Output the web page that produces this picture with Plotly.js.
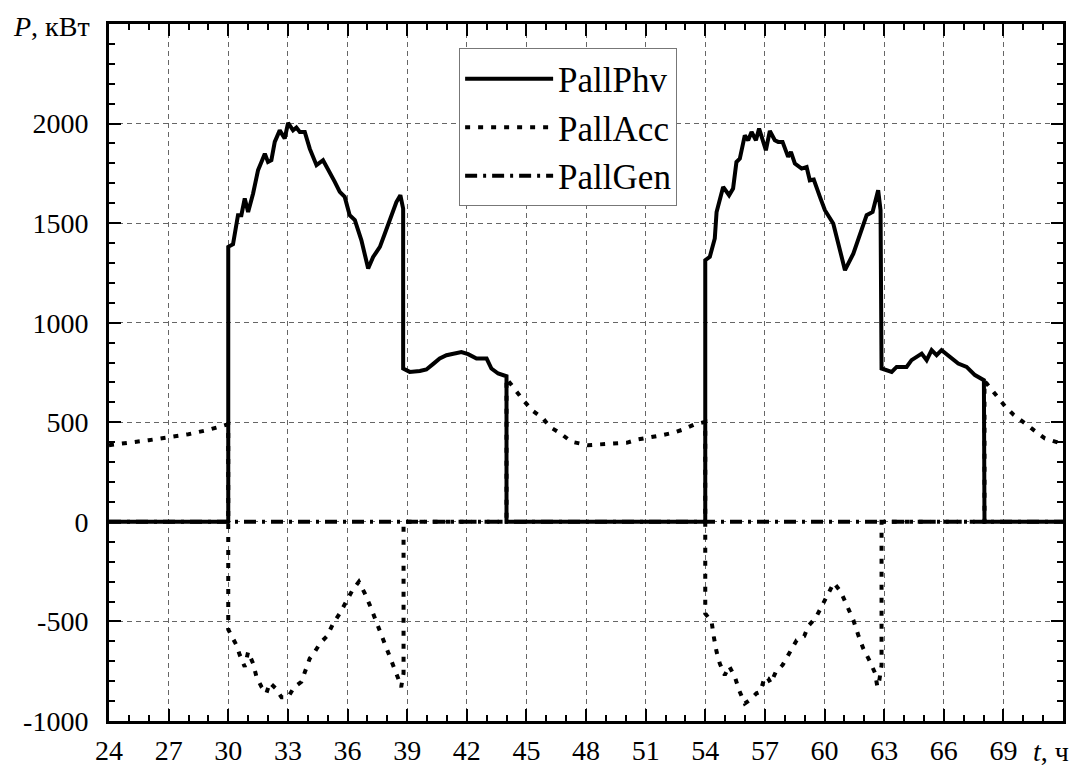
<!DOCTYPE html>
<html>
<head>
<meta charset="utf-8">
<script src="https://cdn.plot.ly/plotly-3.0.1.min.js"></script>
<style>html,body{margin:0;padding:0;background:#fff;}#chart{width:1086px;height:767px;}</style>
</head>
<body>
<div id="chart"></div>
<script>
// ---- data ----
var seriesNames = ["PallPhv", "PallAcc", "PallGen"];

var tPhv = [24, 30, 30, 30.24, 30.49, 30.66, 30.83, 31.0, 31.25, 31.5, 31.67, 31.84, 32.0, 32.17, 32.34, 32.59, 32.84, 33.01, 33.26, 33.43, 33.6, 33.85, 34.1, 34.44, 34.77, 35.1, 35.36, 35.61, 35.86, 36.11, 36.37, 36.7, 37.04, 37.29, 37.63, 37.88, 38.21, 38.46, 38.66, 38.8, 38.8, 39.13, 39.64, 39.97, 40.3, 40.64, 40.98, 41.4, 41.73, 42.07, 42.49, 43.0, 43.24, 43.58, 44.0, 44.0,
  54.0, 54.0, 54.23, 54.48, 54.57, 54.9, 55.2, 55.4, 55.57, 55.74, 55.99, 56.16, 56.33, 56.55, 56.71, 57.05, 57.25, 57.5, 57.67, 57.89, 58.17, 58.31, 58.51, 58.85, 59.1, 59.26, 59.46, 59.77, 60.02, 60.44, 61.03, 61.45, 61.78, 62.12, 62.42, 62.7, 62.82, 62.87, 63.38, 63.63, 64.13, 64.38, 64.89, 65.14, 65.39, 65.64, 65.89, 66.31, 66.73, 67.15, 67.57, 68.02, 68.05, 72];
var pPhv = [0, 0, 1381, 1394, 1540, 1540, 1624, 1556, 1649, 1766, 1807, 1849, 1807, 1816, 1908, 1966, 1925, 2003, 1966, 1980, 1958, 1958, 1874, 1791, 1816, 1749, 1707, 1657, 1632, 1540, 1515, 1414, 1272, 1330, 1381, 1448, 1540, 1606, 1640, 1573, 770, 753, 758, 765, 792, 820, 837, 845, 853, 842, 820, 820, 770, 745, 731, 0,
  0, 1314, 1331, 1423, 1556, 1682, 1640, 1674, 1807, 1824, 1941, 1916, 1958, 1916, 1975, 1866, 1963, 1916, 1908, 1908, 1833, 1858, 1799, 1774, 1782, 1715, 1719, 1632, 1565, 1498, 1264, 1347, 1448, 1540, 1556, 1665, 1565, 770, 753, 778, 778, 812, 845, 812, 862, 837, 862, 828, 795, 778, 737, 711, 0, 0];

var tAcc = [24, 25, 26, 27, 28, 29, 30, 30, 30.41, 30.58, 30.83, 31.0, 31.25, 31.42, 31.67, 31.92, 32.09, 32.39, 32.68, 33.01, 33.31, 33.68, 34.1, 34.35, 34.64, 34.97, 35.28, 35.61, 35.95, 36.25, 36.57, 36.87, 37.16, 37.42, 37.74, 38.01, 38.29, 38.55, 38.7, 38.82, 38.82, 44.0, 44.0, 44.42, 44.84, 45.34, 45.84, 46.18, 46.68, 47.27, 48.1, 48.7, 49.45, 50.04, 50.62, 51.13, 51.8, 52.38, 52.89, 53.48, 54.0,
  54.0, 54.32, 54.43, 54.57, 54.73, 54.98, 55.2, 55.49, 55.7, 55.99, 56.24, 56.58, 56.78, 56.99, 57.16, 57.3, 57.55, 57.89, 58.22, 58.6, 58.98, 59.18, 59.57, 59.86, 60.19, 60.47, 60.82, 61.14, 61.45, 61.7, 61.95, 62.25, 62.54, 62.66, 62.76, 62.87, 62.87, 68.05, 68.05, 68.16, 68.63, 69.08, 69.5, 69.95, 70.42, 71.09, 71.5, 72];
var pAcc = [385, 395, 410, 425, 440, 462, 490, -540, -619, -669, -728, -653, -711, -778, -828, -861, -808, -836, -881, -881, -831, -803, -686, -653, -607, -574, -510, -460, -393, -343, -301, -359, -427, -493, -574, -640, -711, -786, -830, -760, 0, 0, 720, 665, 611, 556, 519, 477, 447, 402, 385, 389, 394, 397, 414, 422, 435, 447, 464, 490, 502,
  -460, -502, -577, -653, -711, -770, -724, -778, -845, -912, -895, -861, -853, -778, -786, -811, -753, -719, -661, -594, -574, -523, -480, -423, -368, -306, -351, -423, -493, -569, -636, -694, -758, -828, -795, -720, 0, 0, 705, 695, 636, 581, 539, 502, 469, 419, 405, 390];

var tGen = [24, 72];
var pGen = [0, 0];

var xTickVals = [24, 27, 30, 33, 36, 39, 42, 45, 48, 51, 54, 57, 60, 63, 66, 69];
var xTickText = ["24", "27", "30", "33", "36", "39", "42", "45", "48", "51", "54", "57", "60", "63", "66", "69"];
var yTickVals = [-1000, -500, 0, 500, 1000, 1500, 2000];
var yTickText = ["-1000", "-500", "0", "500", "1000", "1500", "2000"];

// ---- chart ----
var FONT = 'Liberation Serif, Times New Roman, serif';

var traces = [
  {x: tPhv, y: pPhv, name: seriesNames[0], mode: 'lines', line: {color: '#000', width: 4, dash: 'solid'}},
  {x: tAcc, y: pAcc, name: seriesNames[1], mode: 'lines', line: {color: '#000', width: 4, dash: '5px,8px'}},
  {x: tGen, y: pGen, name: seriesNames[2], mode: 'lines', line: {color: '#000', width: 4, dash: '12px,6px,3px,6px'}}
];

function axis(extra) {
  return Object.assign({
    showline: true, linecolor: '#000', linewidth: 3, mirror: 'allticks', layer: 'above traces',
    ticks: 'inside', ticklen: 12, tickwidth: 2, tickcolor: '#000',
    showgrid: true, gridcolor: '#666', gridwidth: 1, griddash: '5px,4px',
    zeroline: false, tickmode: 'array',
    tickfont: {family: FONT, size: 28, color: '#000'}
  }, extra);
}

var layout = {
  width: 1086, height: 767,
  margin: {l: 109, r: 23, t: 24, b: 46, pad: 0},
  paper_bgcolor: '#fff', plot_bgcolor: '#fff',
  font: {family: FONT, color: '#000'},
  showlegend: true,
  legend: {
    x: 0.367, y: 0.965, xanchor: 'left', yanchor: 'top',
    bgcolor: '#fff', bordercolor: '#777', borderwidth: 1,
    font: {family: FONT, size: 35, color: '#000'},
    itemwidth: 88, tracegroupgap: 0
  },
  xaxis: axis({
    range: [24, 72], tickvals: xTickVals, ticktext: xTickText, ticklabelstandoff: 2,
    minor: {tickmode: 'linear', tick0: 24, dtick: 1, ticks: 'inside', ticklen: 6, tickwidth: 2, tickcolor: '#000', showgrid: false}
  }),
  yaxis: axis({
    range: [-1000, 2500], tickvals: yTickVals, ticktext: yTickText, ticklabelstandoff: 12,
    minor: {tickmode: 'linear', tick0: -1000, dtick: 100, ticks: 'inside', ticklen: 6, tickwidth: 2, tickcolor: '#000', showgrid: false}
  }),
  annotations: [
    {xref: 'paper', yref: 'paper', x: -0.018, y: 0.9957, xanchor: 'right', yanchor: 'middle',
     text: '<i>P</i>, кВт', showarrow: false, font: {family: FONT, size: 28, color: '#000'}},
    {xref: 'paper', yref: 'paper', x: 0.9877, y: -0.0435, xanchor: 'center', yanchor: 'middle',
     text: '<i>t</i>, ч', showarrow: false, font: {family: FONT, size: 28, color: '#000'}}
  ]
};

var gd = document.getElementById('chart');
Plotly.newPlot(gd, traces, layout, {displayModeBar: false}).then(function () {
  // keep the tick marks on top of everything inside the plot group
  gd.querySelectorAll('g.xaxislayer-above, g.yaxislayer-above').forEach(function (g) {
    g.parentNode.appendChild(g);
  });
  gd.querySelectorAll('path.ticks').forEach(function (p) {
    p.style.stroke = '#000';
    p.style.strokeOpacity = '1';
    p.style.strokeDasharray = 'none';
  });
});
</script>
</body>
</html>
